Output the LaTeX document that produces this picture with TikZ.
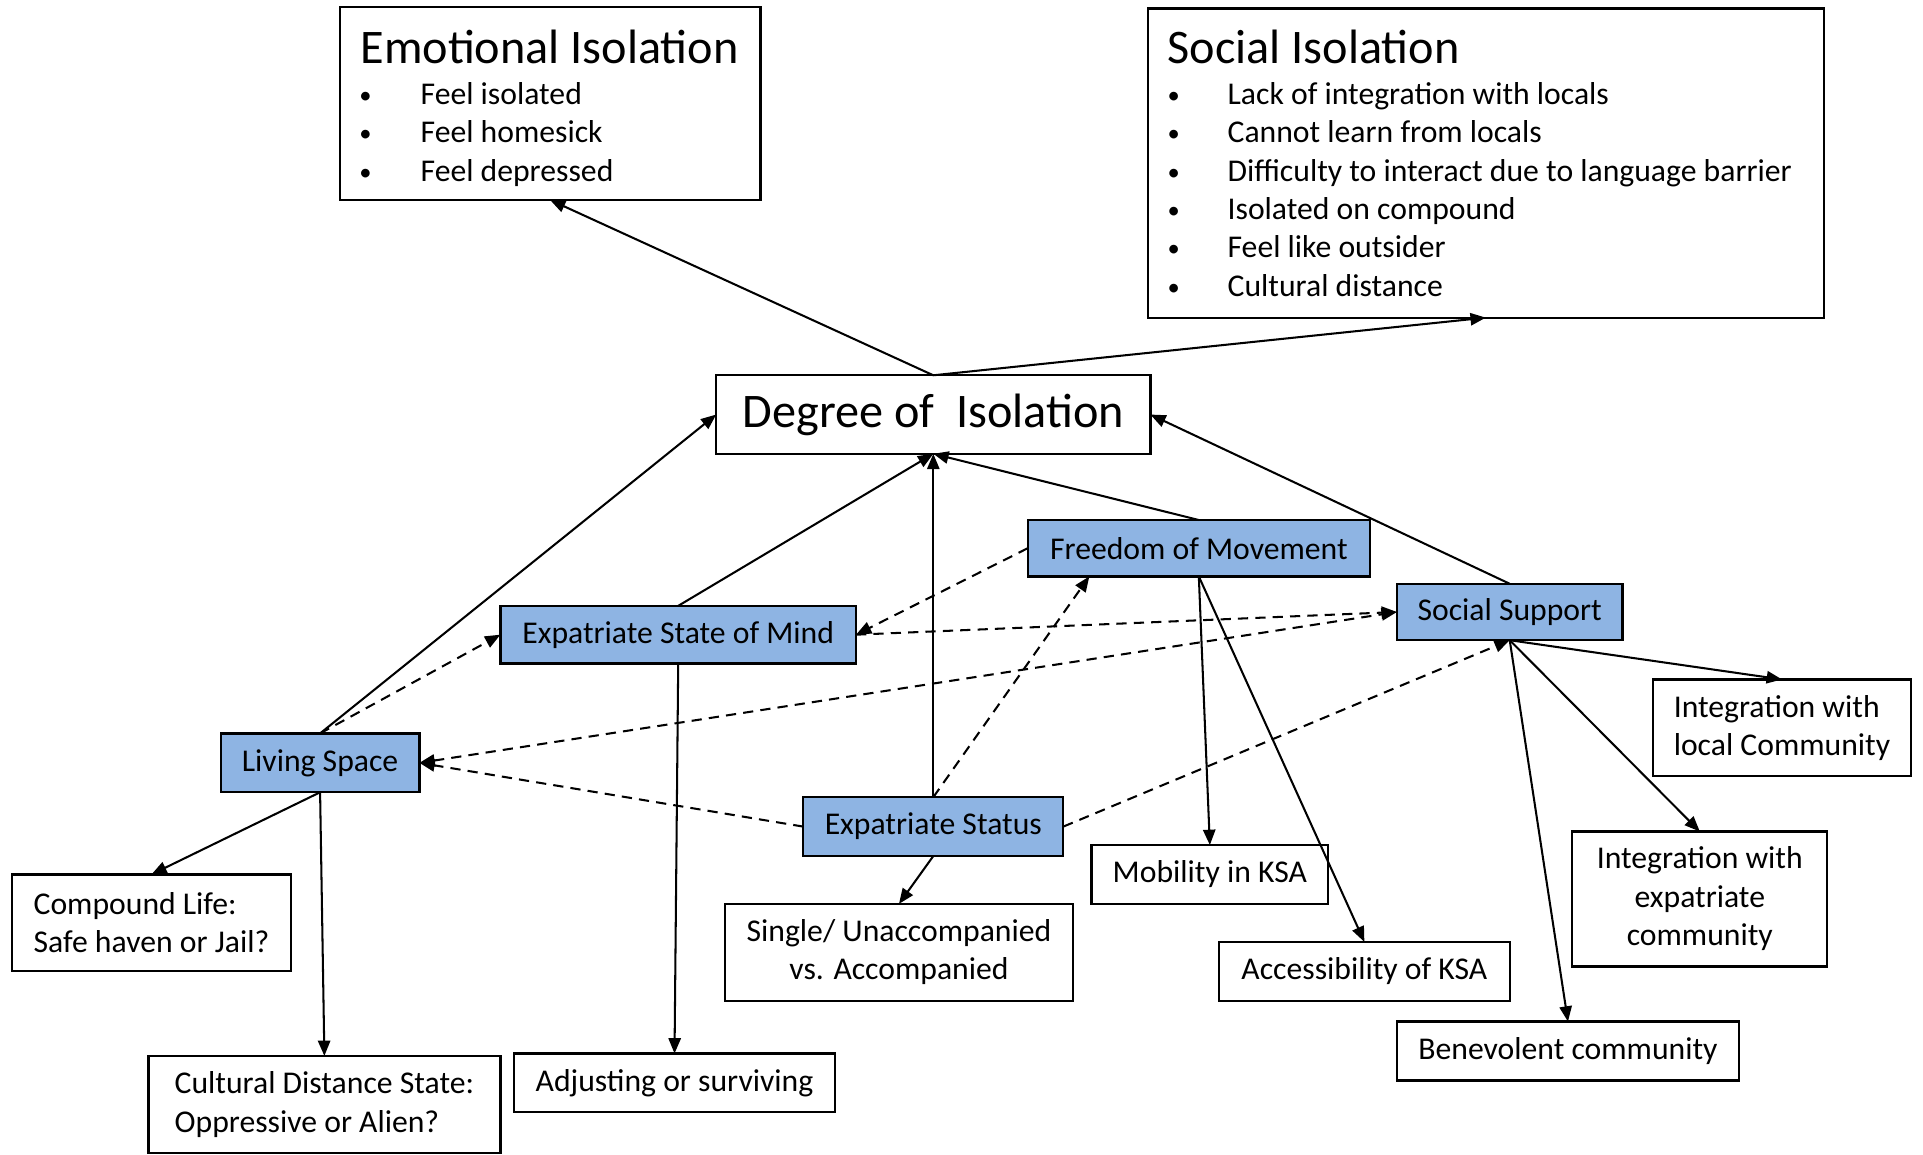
\documentclass[tikz,border=0pt]{standalone}
\usepackage{fontspec}
\setmainfont{Carlito}
\usetikzlibrary{arrows.meta,calc}
\definecolor{factorblue}{RGB}{142,180,227}
% box from corner (x1,y1) to corner (x2,y2), in picture units
\newcommand\mkbox[7]{\node[#1, minimum width={(#5-#3)*0.6pt}, minimum height={(#6-#4)*0.6pt}]
  (#2) at ({(#3+#5)/2},{(#4+#6)/2}) {#7};}
\begin{document}
\begin{tikzpicture}[x=0.6pt,y=-0.6pt,
  every node/.style={inner sep=0pt, outer sep=0pt},
  wbox/.style={draw, line width=1.1pt, fill=white, font=\fontsize{15.5pt}{18.8pt}\selectfont, align=center},
  lbox/.style={wbox, align=left},
  bbox/.style={wbox, fill=factorblue},
  bigbox/.style={wbox, font=\fontsize{23.6pt}{28pt}\selectfont},
  bigtxt/.style={font=\fontsize{23.6pt}{28pt}\selectfont, anchor=base west},
  smtxt/.style={font=\fontsize{15.5pt}{18.8pt}\selectfont, anchor=base west},
  dot/.style={font=\fontsize{12pt}{14pt}\selectfont, anchor=base},
  link/.style={line width=1pt, -{Triangle[length=7.5pt,width=6pt]}},
  dlink/.style={link, dash pattern=on 5pt off 3.5pt},
  ddlink/.style={line width=1pt, dash pattern=on 5pt off 3.5pt,
     {Triangle[length=7.5pt,width=6pt]}-{Triangle[length=7.5pt,width=6pt]}}]
\useasboundingbox (0,0) rectangle (1568,941);

% outcome boxes
\mkbox{wbox}{emo}{277}{6}{620}{163}{}
\node[bigtxt] (emoT) at (294,52) {Emotional Isolation};
\foreach \y/\t [count=\i] in {85/Feel isolated, 116/Feel homesick, 148/Feel depressed}{
  \node[dot] (emoD\i) at (298,\y-1) {\textbullet};
  \node[smtxt] (emoL\i) at (343,\y) {\t};
}

\mkbox{wbox}{soc}{936}{7}{1487}{259}{}
\node[bigtxt] (socT) at (952,52) {Social Isolation};
\foreach \y/\t [count=\i] in {85/Lack of integration with locals, 116/Cannot learn from locals,
   148/Difficulty to interact due to language barrier, 179/Isolated on compound,
   210/Feel like outsider, 242/Cultural distance}{
  \node[dot] (socD\i) at (957,\y-1) {\textbullet};
  \node[smtxt] (socL\i) at (1001,\y) {\t};
}

\mkbox{bigbox}{deg}{584}{306}{938}{370}{Degree of\ \ Isolation}

% factors
\mkbox{bbox}{fom}{838}{424}{1117}{470}{Freedom of Movement}
\mkbox{bbox}{esm}{408}{494}{698}{541}{Expatriate State of Mind}
\mkbox{bbox}{ss}{1139}{476}{1323}{522}{Social Support}
\mkbox{bbox}{ls}{180}{598}{342}{646}{Living Space}
\mkbox{bbox}{es}{655}{650}{867}{698}{Expatriate Status}

% sub-themes
\mkbox{lbox}{cl}{10}{713}{237}{792}{Compound Life:\\Safe haven or Jail?}
\mkbox{lbox}{cds}{121}{861}{408}{940}{Cultural Distance State:\\Oppressive or Alien?}
\mkbox{wbox}{adj}{419}{859}{681}{907}{Adjusting or surviving}
\mkbox{wbox}{sua}{591}{737}{875}{816}{Single/ Unaccompanied\\vs. Accompanied}
\mkbox{wbox}{mob}{890}{689}{1083}{737}{Mobility in KSA}
\mkbox{wbox}{acc}{994}{768}{1231}{816}{Accessibility of KSA}
\mkbox{wbox}{ben}{1139}{833}{1418}{881}{Benevolent community}
\mkbox{wbox}{iec}{1282}{678}{1490}{788}{Integration with\\expatriate\\community}
\mkbox{lbox}{ilc}{1348}{554}{1558}{633}{Integration with\\local Community}

% solid influences
\draw[link] (deg.north) -- (emo.south);
\draw[link] (deg.north) -- (soc.south);
\draw[link] (ls.north) -- (deg.west);
\draw[link] (esm.north) -- (deg.south);
\draw[link] (es.north) -- (deg.south);
\draw[link] (fom.north) -- (deg.south);
\draw[link] (ss.north) -- (deg.east);
\draw[link] (ls.south) -- (cl.north);
\draw[link] (ls.south) -- (cds.north);
\draw[link] (esm.south) -- (adj.north);
\draw[link] (es.south) -- (sua.north);
\draw[link] (fom.south) -- (mob.north);
\draw[link] (fom.south) -- (acc.north);
\draw[link] (ss.south) -- (ilc.north);
\draw[link] (ss.south) -- (iec.north);
\draw[link] (ss.south) -- (ben.north);

% dashed interrelations
\draw[dlink] (ls.north) -- (esm.west);
\draw[dlink] (fom.west) -- (esm.east);
\draw[dlink] (esm.east) -- (ss.west);
\draw[ddlink] (ls.east) -- (ss.west);
\draw[dlink] (es.west) -- (ls.east);
\draw[dlink] (es.north) -- ($(fom.south west)!0.18!(fom.south east)$);
\draw[dlink] (es.east) -- (ss.south);
\end{tikzpicture}
\end{document}
